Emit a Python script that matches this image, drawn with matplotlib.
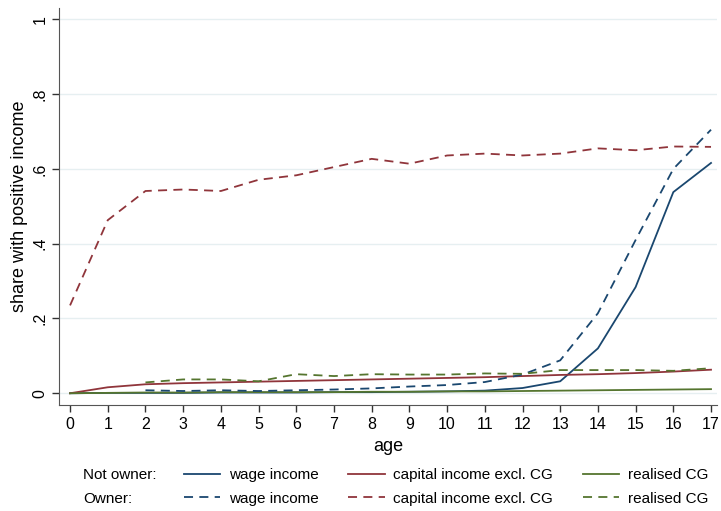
import matplotlib
matplotlib.use('Agg')
import matplotlib.pyplot as plt
from matplotlib.lines import Line2D

plt.rcParams['font.family'] = ['Liberation Sans', 'DejaVu Sans']

ages = list(range(18))
ages_owner = list(range(2, 18))

# not owner
wage_no = [0.0, 0.001, 0.001, 0.001, 0.002, 0.002, 0.002, 0.003, 0.003, 0.004, 0.005, 0.007,
           0.014, 0.032, 0.12, 0.284, 0.538, 0.616]
cap_no = [0.0, 0.016, 0.024, 0.027, 0.029, 0.031, 0.033, 0.035, 0.037, 0.039, 0.041, 0.043,
          0.046, 0.049, 0.051, 0.054, 0.058, 0.063]
cg_no = [0.0, 0.001, 0.002, 0.002, 0.003, 0.003, 0.003, 0.003, 0.004, 0.004, 0.005, 0.005,
         0.006, 0.007, 0.008, 0.009, 0.010, 0.011]

# owner
wage_ow = [0.008, 0.006, 0.008, 0.006, 0.008, 0.010, 0.013, 0.018, 0.022, 0.030,
           0.050, 0.088, 0.214, 0.41, 0.600, 0.705]
cap_ow = [0.235, 0.463, 0.541, 0.545, 0.541, 0.571, 0.583, 0.605, 0.627, 0.614, 0.636, 0.641,
          0.636, 0.641, 0.655, 0.650, 0.660, 0.659]
cg_ow = [0.029, 0.037, 0.037, 0.032, 0.051, 0.046, 0.051, 0.050, 0.050, 0.053,
         0.052, 0.062, 0.062, 0.062, 0.060, 0.067]

yticks = [0, 0.2, 0.4, 0.6, 0.8, 1]
ytick_labels = ['0', '.2', '.4', '.6', '.8', '1']

navy = '#1a476f'
maroon = '#90353b'
green = '#55752f'
lw = 1.3
dash = (5, 3.5)

fig = plt.figure(figsize=(7.21, 5.11), dpi=100)
ax = fig.add_axes([0.082, 0.207, 0.912, 0.777])

ax.plot(ages, wage_no, color=navy, lw=lw)
ax.plot(ages, cap_no, color=maroon, lw=lw)
ax.plot(ages, cg_no, color=green, lw=lw)
ax.plot(ages_owner, wage_ow, color=navy, lw=lw, dashes=dash)
ax.plot(ages, cap_ow, color=maroon, lw=lw, dashes=dash)
ax.plot(ages_owner, cg_ow, color=green, lw=lw, dashes=dash)

ax.set_xlim(-0.29, 17.15)
ax.set_ylim(-0.032, 1.03)
ax.set_xticks(ages)
ax.set_yticks(yticks)
ax.set_yticklabels(ytick_labels, rotation=90, va='center')
ax.tick_params(labelsize=11.5, length=5, color='#333333', width=1)
ax.yaxis.grid(True, color='#e6eff1', lw=1)
ax.set_axisbelow(True)
for s in ['top', 'right']:
    ax.spines[s].set_visible(False)
for s in ['left', 'bottom']:
    ax.spines[s].set_color('#555555')
ax.set_xlabel('age', fontsize=13)
ax.set_ylabel('share with positive income', fontsize=13, labelpad=3)

handles = [
    Line2D([], [], color=navy, lw=lw), Line2D([], [], color=navy, lw=lw, dashes=dash),
    Line2D([], [], color=maroon, lw=lw), Line2D([], [], color=maroon, lw=lw, dashes=dash),
    Line2D([], [], color=green, lw=lw), Line2D([], [], color=green, lw=lw, dashes=dash),
]
labels = ['wage income', 'wage income',
          'capital income excl. CG', 'capital income excl. CG',
          'realised CG', 'realised CG']
fig.legend(handles, labels, ncol=3, loc='center left', bbox_to_anchor=(0.244, 0.047),
           frameon=False, fontsize=11, handlelength=2.4, handletextpad=0.55,
           columnspacing=1.95, labelspacing=0.6, borderpad=0)
fig.text(0.115, 0.071, 'Not owner:', fontsize=11, va='center')
fig.text(0.115, 0.024, 'Owner:', fontsize=11, va='center')

fig.savefig('out.png', dpi=100)
